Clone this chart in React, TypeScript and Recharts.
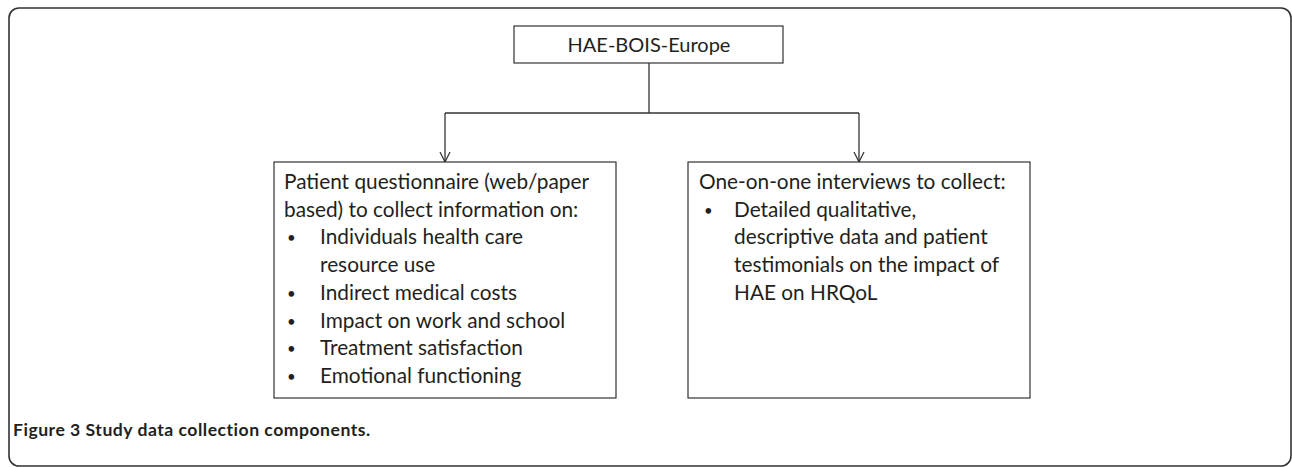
import React from 'react';
import { ComposedChart, XAxis, YAxis, ReferenceArea, ReferenceLine, Scatter } from 'recharts';

const W = 1292;
const H = 467;

// Node boxes (diagram units = pixels of the reference)
const frame = { x1: 9, x2: 1291, y1: 8, y2: 466 };
const boxes = [
  { id: 'root', x1: 514, x2: 783, y1: 26, y2: 63 },
  { id: 'left', x1: 274, x2: 616, y1: 162, y2: 398 },
  { id: 'right', x1: 688, x2: 1030, y1: 162, y2: 398 },
];

// Connector segments
const connectors = [
  { from: [649, 63], to: [649, 113] },
  { from: [445, 113], to: [859, 113] },
  { from: [445, 113], to: [445, 162] },
  { from: [859, 113], to: [859, 162] },
];
const arrowTips = [
  { x: 445, y: 162 },
  { x: 859, y: 162 },
];

// Text content
const rootText = [{ x: 649, y: 52, text: 'HAE-BOIS-Europe', anchor: 'middle', size: 20 }];
const leftHeader = ['Patient questionnaire (web/paper', 'based) to collect information on:'];
const leftBullets = [
  ['Individuals health care', 'resource use'],
  ['Indirect medical costs'],
  ['Impact on work and school'],
  ['Treatment satisfaction'],
  ['Emotional functioning'],
];
const rightHeader = ['One-on-one interviews to collect:'];
const rightBullets = [
  ['Detailed qualitative,', 'descriptive data and patient', 'testimonials on the impact of', 'HAE on HRQoL'],
];
const caption = { x: 13, y: 436, bold: 'Figure 3', rest: ' Study data collection components.' };

const LINE_H = 27.7;
const FIRST_BASE = 189;
const BODY_SIZE = 20.8;
const BULLET_SIZE = 15;

type TextItem = { x: number; y: number; text: string; anchor?: string; size?: number };

function buildLines(header: string[], bullets: string[][], hx: number, bx: number, tx: number): TextItem[] {
  const out: TextItem[] = [];
  let i = 0;
  header.forEach((t) => {
    out.push({ x: hx, y: FIRST_BASE + i * LINE_H, text: t });
    i++;
  });
  bullets.forEach((b) => {
    out.push({ x: bx, y: FIRST_BASE + i * LINE_H - 1, text: '•', size: BULLET_SIZE });
    b.forEach((t) => {
      out.push({ x: tx, y: FIRST_BASE + i * LINE_H, text: t });
      i++;
    });
  });
  return out;
}

const leftText = buildLines(leftHeader, leftBullets, 284, 287, 320);
const rightText = buildLines(rightHeader, rightBullets, 699, 704, 734);
const allText = [...rootText, ...leftText, ...rightText];

const TEXT_COLOR = '#231f20';
const LINE_COLOR = '#333333';
const FONT = "Lato, 'Open Sans', sans-serif";

const TextShape = (props: any) => {
  const { cx, cy, payload } = props;
  return (
    <text
      x={cx}
      y={cy}
      textAnchor={payload.anchor || 'start'}
      fontFamily={FONT}
      fontSize={payload.size || BODY_SIZE}
      fill={TEXT_COLOR}
    >
      {payload.text}
    </text>
  );
};

const CaptionShape = (props: any) => {
  const { cx, cy } = props;
  return (
    <text x={cx} y={cy} fontFamily={FONT} fontSize={17.6} fontWeight={700} letterSpacing={0.5} fill={TEXT_COLOR}>
      <tspan>{caption.bold}</tspan>
      <tspan>{caption.rest}</tspan>
    </text>
  );
};

const RoundRect = (props: any) => {
  const { x, y, width, height } = props;
  return <rect x={x} y={y} width={width} height={height} rx={10} ry={10} fill="none" stroke={LINE_COLOR} strokeWidth={1.6} />;
};

const PlainRect = (props: any) => {
  const { x, y, width, height } = props;
  return <rect x={x} y={y} width={width} height={height} fill="#fff" stroke={LINE_COLOR} strokeWidth={1.2} />;
};

export default function App() {
  return (
    <div style={{ position: 'absolute', left: 0, top: 0, background: '#fff' }}>
      <ComposedChart width={W} height={H} margin={{ top: 0, right: 0, bottom: 0, left: 0 }} data={allText}>
        <XAxis type="number" dataKey="x" domain={[0, W]} hide allowDataOverflow />
        <YAxis type="number" dataKey="y" domain={[0, H]} reversed hide allowDataOverflow />
        <ReferenceArea x1={frame.x1} x2={frame.x2} y1={frame.y1} y2={frame.y2} shape={RoundRect} ifOverflow="visible" />
        {connectors.map((c, i) => (
          <ReferenceLine
            key={'c' + i}
            segment={[{ x: c.from[0], y: c.from[1] }, { x: c.to[0], y: c.to[1] }]}
            stroke={LINE_COLOR}
            strokeWidth={1.3}
            ifOverflow="visible"
          />
        ))}
        {arrowTips.map((a, i) => (
          <ReferenceLine
            key={'al' + i}
            segment={[{ x: a.x - 5, y: a.y - 10 }, { x: a.x, y: a.y }]}
            stroke={LINE_COLOR}
            strokeWidth={1.2}
            ifOverflow="visible"
          />
        ))}
        {arrowTips.map((a, i) => (
          <ReferenceLine
            key={'ar' + i}
            segment={[{ x: a.x + 5, y: a.y - 10 }, { x: a.x, y: a.y }]}
            stroke={LINE_COLOR}
            strokeWidth={1.2}
            ifOverflow="visible"
          />
        ))}
        {boxes.map((b) => (
          <ReferenceArea key={b.id} x1={b.x1} x2={b.x2} y1={b.y1} y2={b.y2} shape={PlainRect} ifOverflow="visible" />
        ))}
        <Scatter data={allText} dataKey="y" shape={TextShape} isAnimationActive={false} />
        <Scatter data={[{ x: caption.x, y: caption.y }]} dataKey="y" shape={CaptionShape} isAnimationActive={false} />
      </ComposedChart>
    </div>
  );
}
